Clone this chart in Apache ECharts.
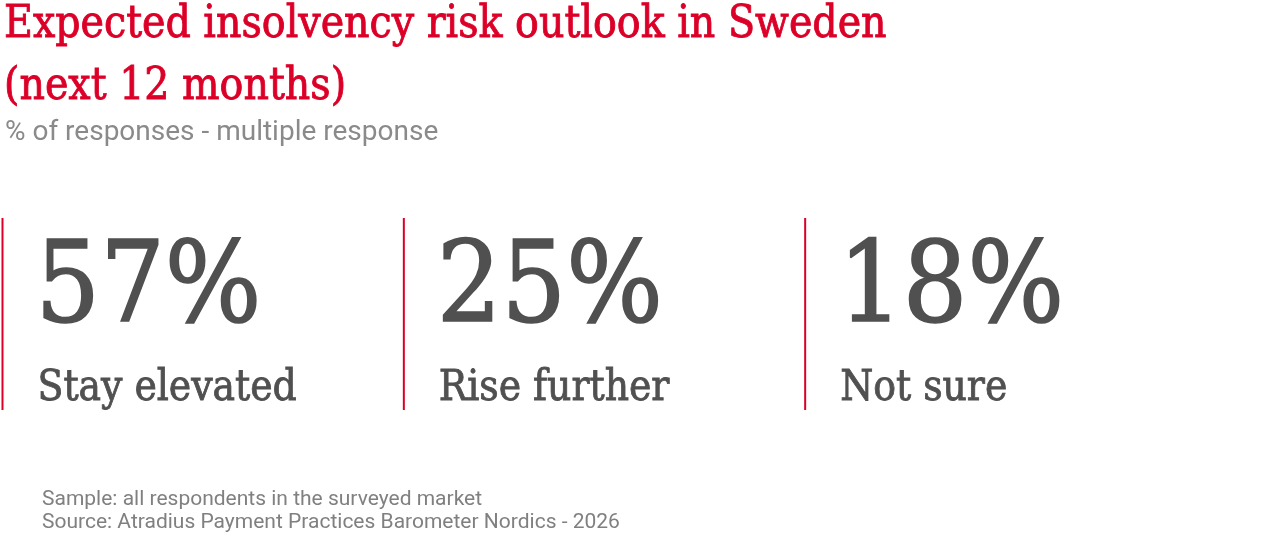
<!DOCTYPE html>
<html>
<head>
<meta charset="utf-8">
<script src="https://cdn.jsdelivr.net/npm/echarts@6/dist/echarts.min.js"></script>
<style>
  html, body { margin: 0; padding: 0; background: #fff; }
  #main { width: 1280px; height: 556px; }
</style>
</head>
<body>
<div id="main"></div>
<script>
// outlook tiles, values read from the survey graphic
var outlooks = ['Stay elevated', 'Rise further', 'Not sure'];
var shares = [57, 25, 18];

var RED = '#dc0028';
var GREY = '#505050';
var SLAB = '"DejaVu Serif Condensed", "DejaVu Serif", serif';
var SANS = 'Roboto, "Noto Sans", sans-serif';

var chart = echarts.init(document.getElementById('main'));

chart.setOption({
  animation: false,
  title: [
    {
      text: 'Expected insolvency risk outlook in Sweden\n(next 12 months)',
      left: 4, top: -5, padding: 0,
      textStyle: { color: RED, fontFamily: SLAB, fontSize: 44, fontWeight: 'normal', lineHeight: 62,
        textBorderColor: RED, textBorderWidth: 0.8 }
    },
    {
      text: '% of responses - multiple response',
      left: 5, top: 119, padding: 0,
      textStyle: { color: '#8a8a8a', fontFamily: SANS, fontSize: 28, fontWeight: 'normal' }
    },
    {
      text: 'Sample: all respondents in the surveyed market\nSource: Atradius Payment Practices Barometer Nordics - 2026',
      left: 42, top: 488, padding: 0,
      textStyle: { color: '#808080', fontFamily: SANS, fontSize: 21, fontWeight: 'normal', lineHeight: 23 }
    }
  ],
  grid: { left: 1.5, width: 1204, top: 218, bottom: 146 },
  xAxis: { type: 'category', data: outlooks, show: false },
  yAxis: { type: 'value', min: 0, max: 1, show: false },
  series: [{
    type: 'custom',
    data: shares.map(function (v, i) { return [i, v]; }),
    renderItem: function (params, api) {
      var i = api.value(0);
      var c = api.coord([i, 1]);
      var b = api.coord([i, 0]);
      var w = api.size([1, 0])[0];
      var x0 = c[0] - w / 2;
      return {
        type: 'group',
        children: [
          { type: 'rect', shape: { x: x0, y: c[1], width: 2, height: b[1] - c[1] }, style: { fill: RED } },
          { type: 'text', x: x0 + 34, y: c[1] + 17,
            style: { text: api.value(1) + '%', fill: GREY, font: '113px ' + SLAB, verticalAlign: 'top',
              stroke: GREY, lineWidth: 1.6 } },
          { type: 'text', x: x0 + 36, y: c[1] + 150,
            style: { text: outlooks[i], fill: GREY, font: '42px ' + SLAB, verticalAlign: 'top',
              stroke: GREY, lineWidth: 0.8 } }
        ]
      };
    }
  }]
});
</script>
</body>
</html>
